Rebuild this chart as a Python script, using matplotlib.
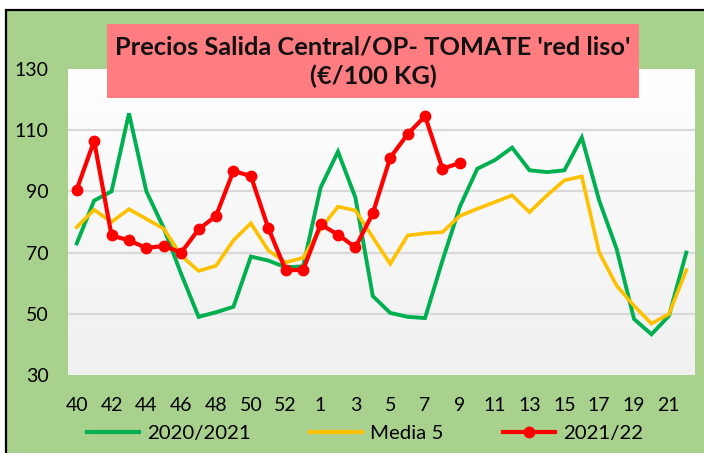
import matplotlib
matplotlib.use("Agg")
import matplotlib.pyplot as plt
import numpy as np
from matplotlib.patches import Rectangle
from matplotlib.lines import Line2D

weeks = [str(w) for w in range(40, 54)] + [str(w) for w in range(1, 23)]
s2020 = [73, 87, 90, 115.5, 90, 78, 63, 49, 50.5, 52.3, 68.7, 67.4, 65.2, 65.5,
         91.2, 103, 88, 55.8, 50.3, 49, 48.6, 67.4, 85, 97.4, 100.2, 104.3,
         96.9, 96.3, 96.9, 107.6, 87, 71.2, 48.3, 43.3, 49.3, 70]
media5 = [78.3, 84, 80, 84.2, 81, 77.8, 69, 64, 65.7, 74, 79.6, 70.7, 66.8, 68.3,
          77.8, 85, 83.8, 75, 66.3, 75.6, 76.3, 76.7, 82, 84.3, 86.5, 88.7,
          83.2, 88.7, 93.6, 94.9, 70, 59.2, 52.6, 46.8, 49.9, 64.3]
s2021 = [90.6, 106.5, 75.6, 74, 71.5, 72.2, 70, 77.6, 82, 96.7, 95, 78, 64.3, 64.3,
         79.2, 75.9, 71.7, 82.8, 101, 108.7, 114.6, 97.4, 99.3]
yticks = [30, 50, 70, 90, 110, 130]
title = "Precios Salida Central/OP- TOMATE 'red liso'\n(€/100 KG)"
labels = ["2020/2021", "Media 5", "2021/22"]

GREEN = "#00B050"
YELLOW = "#FFC000"
RED = "#FF0000"
BG = "#A9D18E"

plt.rcParams['font.family'] = ['Lato', 'DejaVu Sans']

W, H = 704, 453
fig = plt.figure(figsize=(W / 100, H / 100), dpi=100, facecolor="white")

def fx(px):
    return px / W

def fy(py):
    return 1 - py / H

# outer chart area with border
fig.patches.append(Rectangle((fx(6), -0.1), 1.2, fy(10) + 0.1, transform=fig.transFigure,
                             facecolor=BG, edgecolor="black", linewidth=1.6, zorder=-5))

ax = fig.add_axes([fx(68), fy(375), fx(695) - fx(68), fy(69) - fy(375)])
ax.set_zorder(1)
ax.set_facecolor("none")
for sp in ax.spines.values():
    sp.set_visible(False)

n = len(weeks)
x = np.arange(n)

# gradient plot area
grad = np.linspace(1.0, 0.0, 256).reshape(-1, 1)
top = np.array([1.0, 1.0, 1.0])
bot = np.array([0xF0, 0xF0, 0xF0]) / 255
img = bot[None, None, :] * (1 - grad[:, :, None]) + top[None, None, :] * grad[:, :, None]
ax.imshow(img, extent=[-0.5, n - 0.5, 30, 130], aspect="auto", zorder=0,
          origin="upper")

for yv in yticks[1:-1]:
    ax.axhline(yv, color="#D9D9D9", linewidth=1.6, zorder=1)

ax.plot(x, s2020, color=GREEN, linewidth=2.8, zorder=3, solid_joinstyle="miter")
ax.plot(x, media5, color=YELLOW, linewidth=2.6, zorder=3, solid_joinstyle="miter")
ax.plot(np.arange(len(s2021)), s2021, color=RED, linewidth=3.0, marker="o",
        markersize=7.5, zorder=4)

ax.set_xlim(-0.5, n - 0.5)
ax.set_ylim(30, 130)
ax.set_yticks(yticks)
ax.set_yticklabels([str(v) for v in yticks], fontsize=14)
ax.set_xticks(x[::2])
ax.set_xticklabels(weeks[::2], fontsize=14)
ax.tick_params(axis="y", length=0, pad=14)
ax.tick_params(axis="x", length=0, pad=16)

# title box
fig.patches.append(Rectangle((fx(107), fy(98)), fx(639) - fx(107), fy(24) - fy(98),
                             transform=fig.transFigure, facecolor="#FF7C80",
                             edgecolor="none", zorder=5))
fig.text(fx(373), fy(62), title, ha="center", va="center", fontsize=18.3,
         fontweight="bold", color="#111111", linespacing=1.32, zorder=6)

handles = [Line2D([], [], color=GREEN, linewidth=3),
           Line2D([], [], color=YELLOW, linewidth=3),
           Line2D([], [], color=RED, linewidth=3, marker="o", markersize=7.5)]
fig.legend(handles, labels, loc="center", bbox_to_anchor=(fx(365), fy(433)),
           ncol=3, frameon=False, fontsize=14.7, handlelength=2.55,
           handletextpad=0.4, columnspacing=2.9, borderaxespad=0, borderpad=0)

fig.savefig("out.png", dpi=100, facecolor="white")
